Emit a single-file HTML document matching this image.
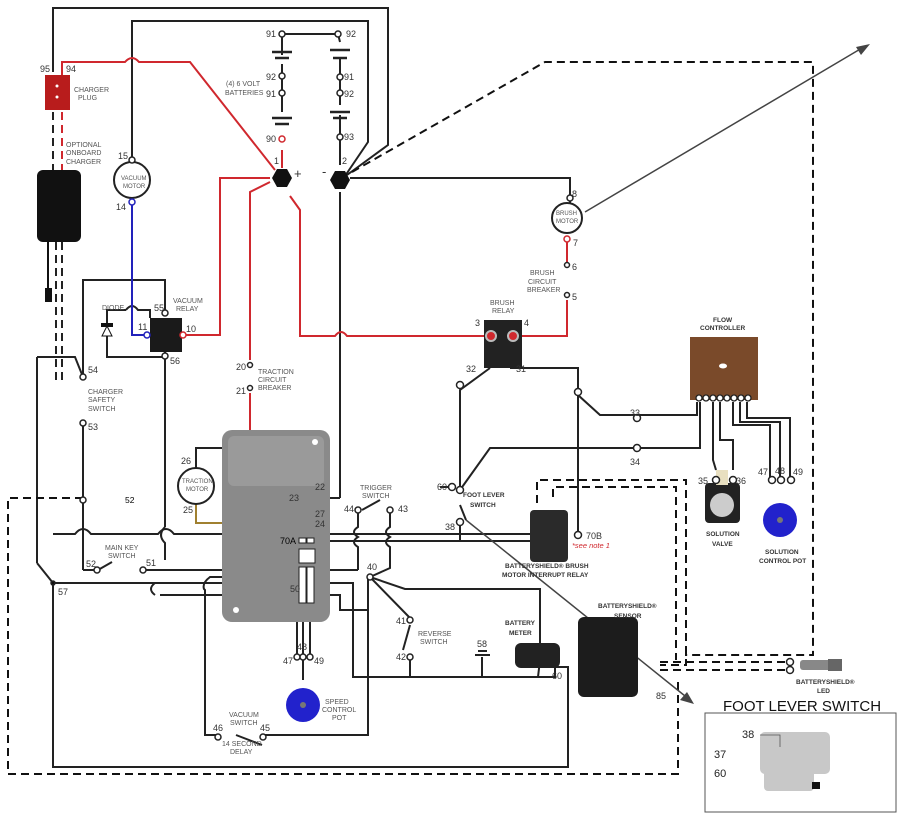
<!DOCTYPE html>
<html><head><meta charset="utf-8"><style>
html,body{margin:0;padding:0;background:#fff;}
svg{display:block;font-family:"Liberation Sans",sans-serif;}
.t{font-size:7px;fill:#555;}
.n{font-size:9px;fill:#333;}
.b{font-size:6.5px;fill:#333;font-weight:bold;}
</style></head><body>
<svg width="908" height="820" viewBox="0 0 908 820" xmlns="http://www.w3.org/2000/svg">
<g fill="none" stroke="#222" stroke-width="2">
<polyline points="53,72 53,8 388,8 388,145 347,175"/>
<polyline points="132,160 132,21 368,21 368,142 345,176"/>
<polyline points="282,55 282,34 338,34 340,42"/>
<line x1="282" y1="64" x2="282" y2="112"/><line x1="340" y1="58" x2="340" y2="105"/>
<line x1="340" y1="115" x2="340" y2="165"/>
<line x1="272" y1="52" x2="292" y2="52" stroke-width="2.5"/><line x1="275" y1="58" x2="289" y2="58" stroke-width="2.5"/>
<line x1="272" y1="118" x2="292" y2="118" stroke-width="2.5"/><line x1="275" y1="124" x2="289" y2="124" stroke-width="2.5"/>
<line x1="330" y1="50" x2="350" y2="50" stroke-width="2.5"/><line x1="333" y1="58" x2="347" y2="58" stroke-width="2.5"/>
<line x1="330" y1="112" x2="350" y2="112" stroke-width="2.5"/><line x1="333" y1="118" x2="347" y2="118" stroke-width="2.5"/>
<polyline points="350,178 570,178 570,203"/>
<line x1="340" y1="192" x2="340" y2="498"/>
<polyline points="340,498 312,498"/>
<line x1="585" y1="212" x2="862" y2="48" stroke="#444" stroke-width="1.5"/>
<polyline points="165,313 165,280 83,280 83,377"/>
<polyline points="165,352 165,357 107,357 107,310 126,310"/>
<path d="M126,310 q6,-8 12,0 L150,310 L150,318"/>
<line x1="165" y1="357" x2="165" y2="527"/>
<path d="M165,527 q-8,8 0,16 L165,560"/>
<polyline points="37,357 75,357 83,377"/>
<line x1="37" y1="357" x2="37" y2="563"/>
<line x1="37" y1="563" x2="53" y2="583"/>
<line x1="83" y1="423" x2="83" y2="570"/>
<polyline points="53,583 53,767 568,767 568,667 555,667"/>
<!-- main horizontal buses -->
<path d="M53,534 L75,534 q8,-10 16,0 L158,534 q8,-10 16,0 L460,534 L530,534"/>
<line x1="300" y1="541" x2="530" y2="541"/>
<polyline points="83,570 95,570"/>
<path d="M98,570 L112,562"/>
<path d="M143,570 L150,570 M150,570 L358,570"/>
<path d="M53,583 L155,583 q-8,6 0,12 M155,583 L353,583 353,677 555,677 555,660"/>
<path d="M300,577 L210,577 q-8,6 -6,12 L205,590 L205,735 L218,735"/>
<polyline points="160,595 340,595 340,610 368,610"/>
<polyline points="236,735 262,745"/><polyline points="262,735 368,735 368,577"/>
<!-- trigger wires -->
<path d="M358,510 L358,527 q-8,5 0,10 q-8,5 0,10 L358,570"/>
<path d="M390,510 L390,527 q-8,5 0,10 q-8,5 0,10 L390,568 L370,577"/>
<path d="M362,510 L380,500"/>
<polyline points="370,577 410,618"/><polyline points="370,577 405,589 540,589 540,650"/>
<polyline points="410,660 410,677"/>
<polyline points="410,625 403,650"/>
<polyline points="196,468 196,448 230,448 230,513 310,513"/>
<polyline points="196,504 196,523 310,523" stroke="#a08030"/>
<line x1="297" y1="605" x2="297" y2="655"/><line x1="303" y1="605" x2="303" y2="680"/><line x1="310" y1="605" x2="310" y2="655"/>
<polyline points="460,490 460,390 490,368"/>
<polyline points="510,368 578,368 578,395 600,415 637,415 697,415 697,402"/>
<polyline points="578,395 578,535"/>
<polyline points="460,490 490,448 700,448 700,402"/>
<line x1="460" y1="505" x2="466" y2="520"/><line x1="460" y1="525" x2="460" y2="541"/>
<polyline points="440,487 448,487"/>
<polyline points="557,535 568,535"/>
<polyline points="713,402 713,460 716,470"/><polyline points="720,402 720,440 733,440 733,470"/>
<polyline points="733,402 733,425 770,425 770,478"/>
<polyline points="740,402 740,422 780,422 780,478"/>
<polyline points="747,402 747,418 790,418 790,478"/>
<polyline points="482,657 482,677 538,677 540,660"/>
<line x1="475" y1="655" x2="490" y2="655"/><line x1="478" y1="651" x2="487" y2="651"/>
</g>
<g fill="none" stroke="#d0282e" stroke-width="2">
<path d="M62,75 L62,62 L125,62 q7,-8 14,0 L190,62 L275,170"/>
<polyline points="282,150 282,168"/>
<polyline points="183,335 220,335 220,178 270,178"/>
<polyline points="270,182 250,192 250,360"/>
<polyline points="250,393 250,487 310,487"/>
<path d="M290,196 L300,210 L300,336 L335,336 q6,-8 12,0 L487,336"/>
<polyline points="513,336 567,336 567,300"/>
<line x1="567" y1="240" x2="567" y2="262"/>
<path d="M62,112 L62,170" stroke-dasharray="8,5"/>
</g>
<path d="M53,112 L53,170" stroke="#222" stroke-width="2" stroke-dasharray="8,5" fill="none"/>
<path d="M56,242 L56,380 M62,242 L62,380" stroke="#222" stroke-width="2" stroke-dasharray="8,5" fill="none"/>
<polyline points="132,202 132,335 147,335" fill="none" stroke="#2222bb" stroke-width="2"/>
<g fill="none" stroke="#111" stroke-width="2" stroke-dasharray="8,5">
<polyline points="352,172 545,62 813,62 813,655 685,655"/>
<polyline points="83,498 8,498 8,774 678,774 678,677"/>
<polyline points="537,503 537,480 686,480 686,665 660,665"/>
<polyline points="553,497 553,487 676,487 676,660"/>
<polyline points="660,662 790,662"/><polyline points="660,670 790,670"/>
</g>
<line x1="466" y1="520" x2="690" y2="700" stroke="#444" stroke-width="1.5"/>
<polygon points="694,704 680,700 687,692" fill="#444"/>
<polygon points="870,44 856,47 861,55" fill="#444"/>
<rect x="45" y="75" width="25" height="35" fill="#b81c1c"/>
<circle cx="57" cy="86" r="1.5" fill="#fff"/><circle cx="57" cy="97" r="1.5" fill="#fff"/>
<rect x="37" y="170" width="44" height="72" rx="6" fill="#111"/>
<line x1="48" y1="242" x2="48" y2="295" stroke="#111" stroke-width="2"/><rect x="45" y="288" width="7" height="14" fill="#111"/>
<rect x="222" y="430" width="108" height="192" rx="10" fill="#8a8a8a"/>
<rect x="228" y="436" width="96" height="50" rx="6" fill="#9a9a9a"/>
<circle cx="236" cy="610" r="3" fill="#fff"/><circle cx="315" cy="442" r="3" fill="#fff"/>
<g fill="#fff" stroke="#222" stroke-width="1">
<rect x="299" y="538" width="7" height="5"/><rect x="307" y="538" width="7" height="5"/>
<rect x="299" y="549" width="16" height="14"/>
<rect x="299" y="567" width="7" height="36"/><rect x="307" y="567" width="7" height="36"/>
</g>
<polygon points="272,178 277,169 287,169 292,178 287,187 277,187" fill="#111"/>
<polygon points="330,180 335,171 345,171 350,180 345,189 335,189" fill="#111"/>
<rect x="150" y="318" width="32" height="34" fill="#1a1a1a"/>
<polygon points="102,336 112,336 107,326" fill="#fff" stroke="#111"/><rect x="101" y="323" width="12" height="4" fill="#111"/>
<g fill="#fff" stroke="#222" stroke-width="2">
<circle cx="132" cy="180" r="18"/><circle cx="196" cy="486" r="18"/><circle cx="567" cy="218" r="15"/>
</g>
<rect x="484" y="320" width="38" height="48" fill="#222"/>
<circle cx="491" cy="336" r="5" fill="#d0282e" stroke="#bbb" stroke-width="2"/><circle cx="513" cy="336" r="5" fill="#d0282e" stroke="#bbb" stroke-width="2"/>
<rect x="530" y="510" width="38" height="52" rx="4" fill="#2a2a2a"/>
<rect x="690" y="337" width="68" height="63" fill="#7a4a2a"/>
<ellipse cx="723" cy="366" rx="4" ry="2.5" fill="#fff"/>
<rect x="705" y="483" width="35" height="40" rx="4" fill="#222"/><circle cx="722" cy="505" r="12" fill="#ccc"/>
<rect x="716" y="470" width="12" height="15" fill="#e8dfc0"/>
<circle cx="780" cy="520" r="17" fill="#2222cc"/><circle cx="780" cy="520" r="3" fill="#777"/>
<circle cx="303" cy="705" r="17" fill="#2222cc"/><circle cx="303" cy="705" r="3" fill="#777"/>
<rect x="578" y="617" width="60" height="80" rx="6" fill="#1c1c1c"/>
<rect x="515" y="643" width="45" height="25" rx="6" fill="#222"/>
<rect x="800" y="660" width="40" height="10" rx="3" fill="#888"/><rect x="828" y="659" width="14" height="12" fill="#666"/>
<rect x="705" y="713" width="191" height="99" fill="#fff" stroke="#555" stroke-width="1"/>
<rect x="760" y="732" width="70" height="42" rx="5" fill="#c8c8c8"/><rect x="764" y="765" width="50" height="26" rx="4" fill="#c8c8c8"/>
<rect x="812" y="782" width="8" height="7" fill="#111"/>
<polyline points="760,735 780,735 780,747 M730,741 760,741 M730,759 760,759 M818,787 882,795 884,770" fill="none" stroke="#555" stroke-width="0.8"/>
<g fill="#fff" stroke="#222" stroke-width="1.5">
<circle cx="282" cy="34" r="3"/><circle cx="338" cy="34" r="3"/><circle cx="282" cy="76" r="3"/><circle cx="282" cy="93" r="3"/>
<circle cx="340" cy="77" r="3"/><circle cx="340" cy="93" r="3"/><circle cx="340" cy="137" r="3"/><circle cx="282" cy="139" r="3" stroke="#d0282e"/>
<circle cx="132" cy="160" r="3"/><circle cx="132" cy="202" r="3" stroke="#2222bb"/>
<circle cx="147" cy="335" r="3" stroke="#2222bb"/><circle cx="183" cy="335" r="3" stroke="#d0282e"/>
<circle cx="165" cy="313" r="3"/><circle cx="165" cy="356" r="3"/>
<circle cx="83" cy="377" r="3"/><circle cx="83" cy="423" r="3"/><circle cx="83" cy="500" r="3"/>
<circle cx="97" cy="570" r="3"/><circle cx="143" cy="570" r="3"/>
<circle cx="570" cy="198" r="3"/><circle cx="567" cy="239" r="3" stroke="#d0282e"/>
<circle cx="567" cy="265" r="2.5"/><circle cx="567" cy="295" r="2.5"/>
<circle cx="250" cy="365" r="2.5"/><circle cx="250" cy="388" r="2.5"/>
<circle cx="460" cy="385" r="3.5"/><circle cx="578" cy="392" r="3.5"/><circle cx="637" cy="418" r="3.5"/><circle cx="637" cy="448" r="3.5"/>
<circle cx="452" cy="487" r="3.5"/><circle cx="460" cy="490" r="3.5"/><circle cx="460" cy="522" r="3.5"/>
<circle cx="578" cy="535" r="3.5"/>
<circle cx="358" cy="510" r="3"/><circle cx="390" cy="510" r="3"/><circle cx="370" cy="577" r="3"/>
<circle cx="410" cy="620" r="3"/><circle cx="410" cy="657" r="3"/>
<circle cx="218" cy="737" r="3"/><circle cx="263" cy="737" r="3"/>
<circle cx="297" cy="657" r="3"/><circle cx="303" cy="657" r="3"/><circle cx="310" cy="657" r="3"/>
<circle cx="716" cy="480" r="3.5"/><circle cx="733" cy="480" r="3.5"/>
<circle cx="772" cy="480" r="3.5"/><circle cx="781" cy="480" r="3.5"/><circle cx="791" cy="480" r="3.5"/>
<circle cx="790" cy="662" r="3.5"/><circle cx="790" cy="670" r="3.5"/>
<circle cx="53" cy="583" r="2" fill="#111"/>
</g>
<g fill="#fff" stroke="#222" stroke-width="1.3">
<circle cx="699" cy="398" r="3"/><circle cx="706" cy="398" r="3"/><circle cx="713" cy="398" r="3"/><circle cx="720" cy="398" r="3"/><circle cx="727" cy="398" r="3"/><circle cx="734" cy="398" r="3"/><circle cx="741" cy="398" r="3"/><circle cx="748" cy="398" r="3"/>
</g>
<g class="n">
<text x="40" y="72">95</text><text x="66" y="72">94</text>
<text x="266" y="37">91</text><text x="346" y="37">92</text><text x="266" y="80">92</text><text x="266" y="97">91</text>
<text x="344" y="80">91</text><text x="344" y="97">92</text><text x="344" y="140">93</text><text x="266" y="142">90</text>
<text x="274" y="164">1</text><text x="342" y="164">2</text>
<text x="294" y="178" font-size="13">+</text><text x="322" y="176" font-size="13">-</text>
<text x="118" y="159">15</text><text x="116" y="210">14</text><text x="138" y="330">11</text><text x="186" y="332">10</text>
<text x="154" y="311">55</text><text x="170" y="364">56</text>
<text x="88" y="373">54</text><text x="88" y="430">53</text><text x="125" y="503" font-size="8.5" fill="#000">52</text>
<text x="86" y="567">52</text><text x="146" y="566">51</text><text x="58" y="595">57</text>
<text x="572" y="197">8</text><text x="573" y="246">7</text><text x="572" y="270">6</text><text x="572" y="300">5</text>
<text x="236" y="370">20</text><text x="236" y="394">21</text>
<text x="475" y="326">3</text><text x="524" y="326">4</text><text x="466" y="372">32</text><text x="516" y="372">31</text>
<text x="630" y="416">33</text><text x="630" y="465">34</text>
<text x="181" y="464">26</text><text x="183" y="513">25</text>
<text x="315" y="490">22</text><text x="289" y="501">23</text><text x="315" y="517">27</text><text x="315" y="527">24</text>
<text x="280" y="544" fill="#000">70A</text><text x="290" y="592">50</text>
<text x="344" y="512">44</text><text x="398" y="512">43</text><text x="367" y="570">40</text>
<text x="396" y="624">41</text><text x="396" y="660">42</text>
<text x="437" y="490">60</text><text x="445" y="530">38</text><text x="586" y="539">70B</text>
<text x="283" y="664">47</text><text x="297" y="650">48</text><text x="314" y="664">49</text>
<text x="213" y="731">46</text><text x="260" y="731">45</text>
<text x="698" y="484">35</text><text x="736" y="484">36</text>
<text x="758" y="475">47</text><text x="775" y="474">48</text><text x="793" y="475">49</text>
<text x="477" y="647">58</text><text x="552" y="679">60</text><text x="656" y="699">85</text>
</g>
<g class="t">
<text x="74" y="92">CHARGER</text><text x="78" y="100">PLUG</text>
<text x="66" y="147">OPTIONAL</text><text x="66" y="155">ONBOARD</text><text x="66" y="164">CHARGER</text>
<text x="226" y="86">(4) 6 VOLT</text><text x="225" y="95">BATTERIES</text>
<text x="121" y="180" font-size="6">VACUUM</text><text x="123" y="188" font-size="6">MOTOR</text>
<text x="102" y="310">DIODE</text><text x="173" y="303">VACUUM</text><text x="176" y="311">RELAY</text>
<text x="88" y="394">CHARGER</text><text x="88" y="402">SAFETY</text><text x="88" y="411">SWITCH</text>
<text x="258" y="374">TRACTION</text><text x="258" y="382">CIRCUIT</text><text x="258" y="390">BREAKER</text>
<text x="556" y="215" font-size="6">BRUSH</text><text x="556" y="223" font-size="6">MOTOR</text>
<text x="530" y="275">BRUSH</text><text x="528" y="284">CIRCUIT</text><text x="527" y="292">BREAKER</text>
<text x="490" y="305">BRUSH</text><text x="492" y="313">RELAY</text>
<text x="182" y="483" font-size="6">TRACTION</text><text x="186" y="491" font-size="6">MOTOR</text>
<text x="360" y="490">TRIGGER</text><text x="362" y="498">SWITCH</text>
<text x="105" y="550">MAIN KEY</text><text x="108" y="558">SWITCH</text>
<text x="418" y="636">REVERSE</text><text x="420" y="644">SWITCH</text>
<text x="325" y="704">SPEED</text><text x="322" y="712">CONTROL</text><text x="332" y="720">POT</text>
<text x="229" y="717">VACUUM</text><text x="230" y="725">SWITCH</text>
<text x="222" y="746">14 SECOND</text><text x="230" y="754">DELAY</text>
</g>
<g class="b">
<text x="713" y="322">FLOW</text><text x="700" y="330">CONTROLLER</text>
<text x="463" y="497">FOOT LEVER</text><text x="470" y="507">SWITCH</text>
<text x="505" y="568">BATTERYSHIELD® BRUSH</text><text x="502" y="577">MOTOR INTERRUPT RELAY</text>
<text x="505" y="625">BATTERY</text><text x="509" y="635">METER</text>
<text x="598" y="608">BATTERYSHIELD®</text><text x="614" y="618">SENSOR</text>
<text x="706" y="536">SOLUTION</text><text x="712" y="546">VALVE</text>
<text x="765" y="554">SOLUTION</text><text x="759" y="563">CONTROL POT</text>
<text x="796" y="684">BATTERYSHIELD®</text><text x="817" y="693">LED</text>
</g>
<text x="572" y="548" font-size="7.5" fill="#d0282e" font-style="italic">*see note 1</text>
<text x="723" y="711" font-size="15" fill="#111">FOOT LEVER SWITCH</text>
<g font-size="11" fill="#222"><text x="742" y="738">38</text><text x="714" y="758">37</text><text x="714" y="777">60</text></g>
</svg>
</body></html>
